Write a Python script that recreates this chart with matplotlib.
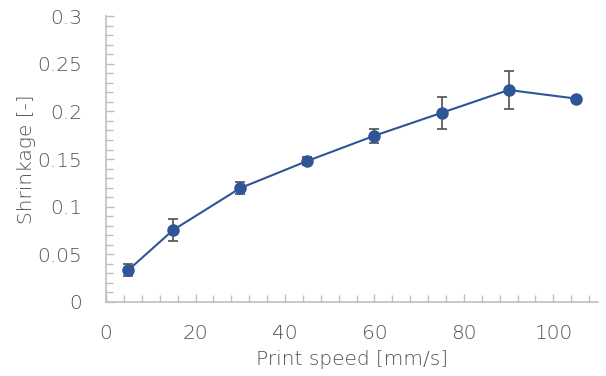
import numpy as np
import matplotlib.pyplot as plt
from matplotlib.ticker import MultipleLocator

# print speed [mm/s] vs. shrinkage, mean and spread
speed = [5, 15, 30, 45, 60, 75, 90, 105]
shrinkage = [0.0335, 0.0755, 0.1195, 0.148, 0.1745, 0.1985, 0.2225, 0.2135]
spread = [0.006, 0.012, 0.0065, 0.004, 0.0075, 0.017, 0.02, 0.0]
ytick_vals = [0, 0.05, 0.1, 0.15, 0.2, 0.25, 0.3]
ytick_text = ["0", "0.05", "0.1", "0.15", "0.2", "0.25", "0.3"]

plt.rcParams['font.family'] = ['DejaVu Sans']
plt.rcParams['font.weight'] = 'light'
plt.rcParams['axes.labelweight'] = 'light'
grey = "#505050"
line_col = "#2f5597"

fig = plt.figure(figsize=(6.06, 3.76), dpi=100)
ax = fig.add_axes([0.175, 0.197, 0.812, 0.76])

ax.errorbar(speed, shrinkage, yerr=spread, fmt="none", ecolor=grey,
            elinewidth=1.2, capsize=3.5, capthick=1.2, zorder=2)
ax.plot(speed, shrinkage, color=line_col, linewidth=1.5, marker="o",
        markersize=8, zorder=3)

ax.set_xlim(0, 110)
ax.set_ylim(0, 0.3)
ax.xaxis.set_major_locator(MultipleLocator(20))
ax.xaxis.set_minor_locator(MultipleLocator(4))
ax.yaxis.set_minor_locator(MultipleLocator(0.01))
ax.set_yticks(ytick_vals)
ax.set_yticklabels(ytick_text)

ax.spines["top"].set_visible(False)
ax.spines["right"].set_visible(False)
for s in ["left", "bottom"]:
    ax.spines[s].set_color("#bfbfbf")
    ax.spines[s].set_linewidth(1.2)

ax.tick_params(which="both", direction="in", color="#bfbfbf", width=1.0,
               labelsize=14.5, labelcolor=grey)
ax.tick_params(which="major", length=6)
ax.tick_params(axis="y", which="major", pad=17)
ax.tick_params(axis="x", which="major", pad=16)
ax.tick_params(which="minor", length=5)

ax.set_xlabel("Print speed [mm/s]", fontsize=14.5, color=grey, labelpad=5)
ax.set_ylabel("Shrinkage [-]", fontsize=14.5, color=grey, labelpad=1)

fig.savefig("out.png", dpi=100)
